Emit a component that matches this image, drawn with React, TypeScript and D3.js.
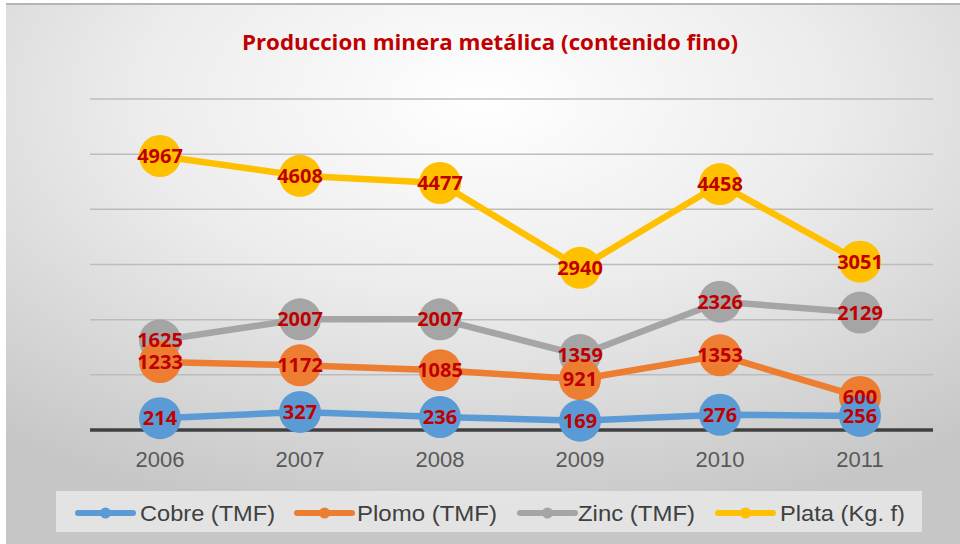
import React from "react";
import * as d3 from "d3";

const years = ["2006", "2007", "2008", "2009", "2010", "2011"];
const cobre = [214, 327, 236, 169, 276, 256];
const plomo = [1233, 1172, 1085, 921, 1353, 600];
const zinc = [1625, 2007, 2007, 1359, 2326, 2129];
const plata = [4967, 4608, 4477, 2940, 4458, 3051];
const seriesNames = ["Cobre (TMF)", "Plomo (TMF)", "Zinc (TMF)", "Plata (Kg. f)"];
const seriesColors = ["#5B9BD5", "#ED7D31", "#A5A5A5", "#FFC000"];
const gridTicks = [1000, 2000, 3000, 4000, 5000, 6000];
const title = "Produccion minera metálica (contenido fino)";

const W = 960;
const H = 544;

export default function App() {
  const data = [cobre, plomo, zinc, plata];
  const x = d3.scaleBand<string>().domain(years).range([90, 930]);
  const y = d3.scaleLinear().domain([0, 6000]).range([430, 99]);
  const cx = (yr: string) => (x(yr) ?? 0) + x.bandwidth() / 2;
  const line = d3
    .line<number>()
    .x((_, i) => cx(years[i]))
    .y((d) => y(d));

  const legendIcon = [78, 297, 520, 718];
  const legendText = [140, 357, 578, 780];
  const legendWidth = [135, 140, 117, 125];
  const order = [3, 2, 1, 0];

  return (
    <svg
      width={W}
      height={H}
      style={{ position: "absolute", left: 0, top: 0, display: "block" }}
    >
      <defs>
        <radialGradient id="bg" cx="50%" cy="18%" r="80%" fx="50%" fy="18%">
          <stop offset="0%" stopColor="#ffffff" />
          <stop offset="45%" stopColor="#ececec" />
          <stop offset="100%" stopColor="#c6c6c6" />
        </radialGradient>
      </defs>
      <rect x={0} y={0} width={W} height={H} fill="#ffffff" />
      <rect x={6} y={3} width={W - 6} height={H - 3} fill="url(#bg)" />
      <rect x={6} y={3} width={W - 6} height={2} fill="#b5b5b5" />

      <text
        x={490}
        y={50}
        textAnchor="middle"
        fontFamily="'Open Sans', sans-serif"
        fontWeight="bold"
        fontSize={22}
        fill="#C00000"
        textLength={496}
        lengthAdjust="spacingAndGlyphs"
      >
        {title}
      </text>

      {gridTicks.map((t) => (
        <line
          key={t}
          x1={90}
          x2={933}
          y1={y(t)}
          y2={y(t)}
          stroke="#bcbcbc"
          strokeWidth={1.5}
        />
      ))}
      <line x1={90} x2={933} y1={y(0)} y2={y(0)} stroke="#404040" strokeWidth={3.5} />

      {years.map((yr) => (
        <text
          key={yr}
          x={cx(yr)}
          y={467}
          textAnchor="middle"
          fontFamily="'Liberation Sans', Arial, sans-serif"
          fontSize={22}
          fill="#595959"
        >
          {yr}
        </text>
      ))}

      {order.map((si) => (
        <g key={si}>
          <path
            d={line(data[si]) ?? ""}
            fill="none"
            stroke={seriesColors[si]}
            strokeWidth={6.5}
            strokeLinejoin="round"
          />
          {data[si].map((v, i) => (
            <circle
              key={i}
              cx={cx(years[i])}
              cy={y(v)}
              r={21}
              fill={seriesColors[si]}
            />
          ))}
        </g>
      ))}

      {order.map((si) => (
        <g key={"l" + si}>
          {data[si].map((v, i) => (
            <text
              key={i}
              x={cx(years[i])}
              y={y(v) + 7}
              textAnchor="middle"
              fontFamily="'Open Sans', sans-serif"
              fontWeight="bold"
              fontSize={20}
              fill="#C00000"
            >
              {v}
            </text>
          ))}
        </g>
      ))}

      <rect x={56} y={491} width={866} height={41} fill="#e8e8e8" opacity={0.85} />
      {seriesNames.map((n, i) => (
        <g key={n}>
          <line
            x1={legendIcon[i]}
            x2={legendIcon[i] + 55}
            y1={513}
            y2={513}
            stroke={seriesColors[i]}
            strokeWidth={6}
            strokeLinecap="round"
          />
          <circle cx={legendIcon[i] + 27.5} cy={513} r={5.5} fill={seriesColors[i]} />
          <text
            x={legendText[i]}
            y={521}
            fontFamily="'Liberation Sans Narrow', 'Liberation Sans', Arial, sans-serif"
            fontSize={22}
            fill="#404040"
            textLength={legendWidth[i]}
            lengthAdjust="spacingAndGlyphs"
          >
            {n}
          </text>
        </g>
      ))}
    </svg>
  );
}
